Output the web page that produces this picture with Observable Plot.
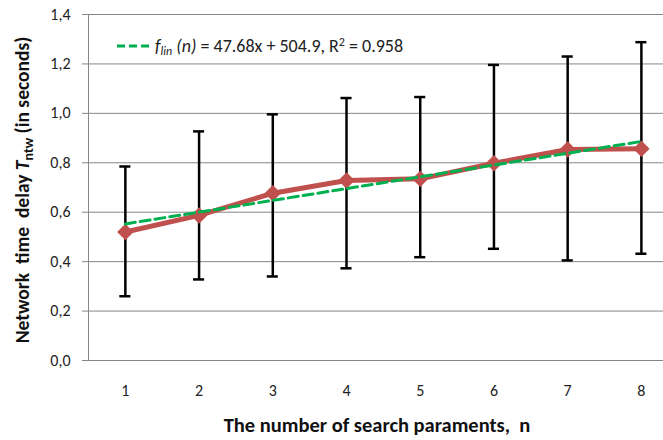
<!DOCTYPE html>
<html>
<head>
<meta charset="utf-8">
<script src="https://cdn.jsdelivr.net/npm/d3@7"></script>
<script src="https://cdn.jsdelivr.net/npm/@observablehq/plot@0.6"></script>
<style>
  html, body { margin: 0; padding: 0; background: #fff; }
  #chart { width: 663px; height: 440px; }
</style>
</head>
<body>
<div id="chart"></div>
<script>
// ---- data ----
const nValues  = [1, 2, 3, 4, 5, 6, 7, 8];
const meanDelay = [0.520, 0.587, 0.677, 0.728, 0.735, 0.798, 0.854, 0.857];
const errHigh   = [0.785, 0.927, 0.996, 1.062, 1.066, 1.196, 1.230, 1.288];
const errLow    = [0.260, 0.328, 0.340, 0.373, 0.418, 0.452, 0.405, 0.432];
const trendN    = [1, 8];
const trendV    = [0.5526, 0.8863];
const xTicks    = [1, 2, 3, 4, 5, 6, 7, 8];
const yTicks    = [0, 0.2, 0.4, 0.6, 0.8, 1.0, 1.2, 1.4];
const xDomain   = [0.5, 8.3];
const yDomain   = [0, 1.4];

const rows  = nValues.map((n, i) => ({n, mean: meanDelay[i], lo: errLow[i], hi: errHigh[i]}));
const trend = trendN.map((n, i) => ({n, v: trendV[i]}));

const FONT = "Carlito, Lato, 'Open Sans', sans-serif";
const capHalf = 0.075;

const svg = Plot.plot({
  width: 663,
  height: 440,
  marginLeft: 88,
  marginRight: 0,
  marginTop: 14,
  marginBottom: 80,
  style: {fontFamily: FONT, fontSize: "16px", background: "#fff", color: "#222"},
  x: {domain: xDomain},
  y: {domain: yDomain},
  marks: [
    Plot.gridY(yTicks, {stroke: "#868686", strokeOpacity: 1, strokeWidth: 1}),
    Plot.ruleX([xDomain[0]], {stroke: "#868686", strokeWidth: 1}),
    Plot.axisY({ticks: yTicks, tickSize: 6, stroke: "#868686", tickPadding: 12,
                fill: "#222", fontSize: 16, label: null,
                tickFormat: d => d.toFixed(1).replace(".", ",")}),
    Plot.axisX({ticks: xTicks, tickSize: 0, tickPadding: 24, fill: "#222",
                fontSize: 16, label: null, tickFormat: d => String(d)}),
    Plot.ruleX(rows, {x: "n", y1: "lo", y2: "hi", stroke: "#000", strokeWidth: 2.5}),
    Plot.ruleY(rows, {y: "hi", x1: d => d.n - capHalf, x2: d => d.n + capHalf, stroke: "#000", strokeWidth: 2.5}),
    Plot.ruleY(rows, {y: "lo", x1: d => d.n - capHalf, x2: d => d.n + capHalf, stroke: "#000", strokeWidth: 2.5}),
    Plot.line(rows, {x: "n", y: "mean", stroke: "#C0504D", strokeWidth: 5}),
    Plot.dot(rows, {x: "n", y: "mean", symbol: "diamond2", r: 7.4, fill: "#C0504D", stroke: "none"}),
    Plot.line(trend, {x: "n", y: "v", stroke: "#00B050", strokeWidth: 3, strokeDasharray: "10,5"})
  ]
});

document.getElementById("chart").appendChild(svg);

const s = d3.select(svg);

// Y axis title with subscript
const yt = s.append("text")
  .attr("transform", "translate(22,190) rotate(-90)")
  .attr("text-anchor", "middle")
  .attr("dy", "0.35em")
  .attr("font-family", FONT)
  .attr("font-weight", "bold")
  .attr("font-size", 19.5)
  .attr("fill", "#111");
yt.append("tspan").text("Network  time  delay ");
yt.append("tspan").attr("font-style", "italic").text("T");
yt.append("tspan").attr("font-size", 14).attr("dy", "4").text("ntw");
yt.append("tspan").attr("dy", "-4").text(" (in seconds)");

// X axis title
s.append("text")
  .attr("x", 377)
  .attr("y", 425)
  .attr("dy", "0.35em")
  .attr("text-anchor", "middle")
  .attr("font-family", FONT)
  .attr("font-weight", "bold")
  .attr("font-size", 20.5)
  .attr("fill", "#111")
  .text("The number of search paraments,  n");

// Legend
s.append("line")
  .attr("x1", 117).attr("x2", 150).attr("y1", 46).attr("y2", 46)
  .attr("stroke", "#00B050").attr("stroke-width", 3).attr("stroke-dasharray", "8,4");
const lg = s.append("text")
  .attr("x", 155).attr("y", 46).attr("dy", "0.35em")
  .attr("text-anchor", "start")
  .attr("font-family", FONT).attr("font-size", 18).attr("fill", "#222");
lg.append("tspan").attr("font-style", "italic").text("f");
lg.append("tspan").attr("font-style", "italic").attr("font-size", 12).attr("dy", 3).text("lin");
lg.append("tspan").attr("font-style", "italic").attr("dy", -3).text(" (n)");
lg.append("tspan").text(" = 47.68x + 504.9, R");
lg.append("tspan").attr("font-size", 12).attr("dy", -6).text("2");
lg.append("tspan").attr("dy", 6).text(" = 0.958");
</script>
</body>
</html>
